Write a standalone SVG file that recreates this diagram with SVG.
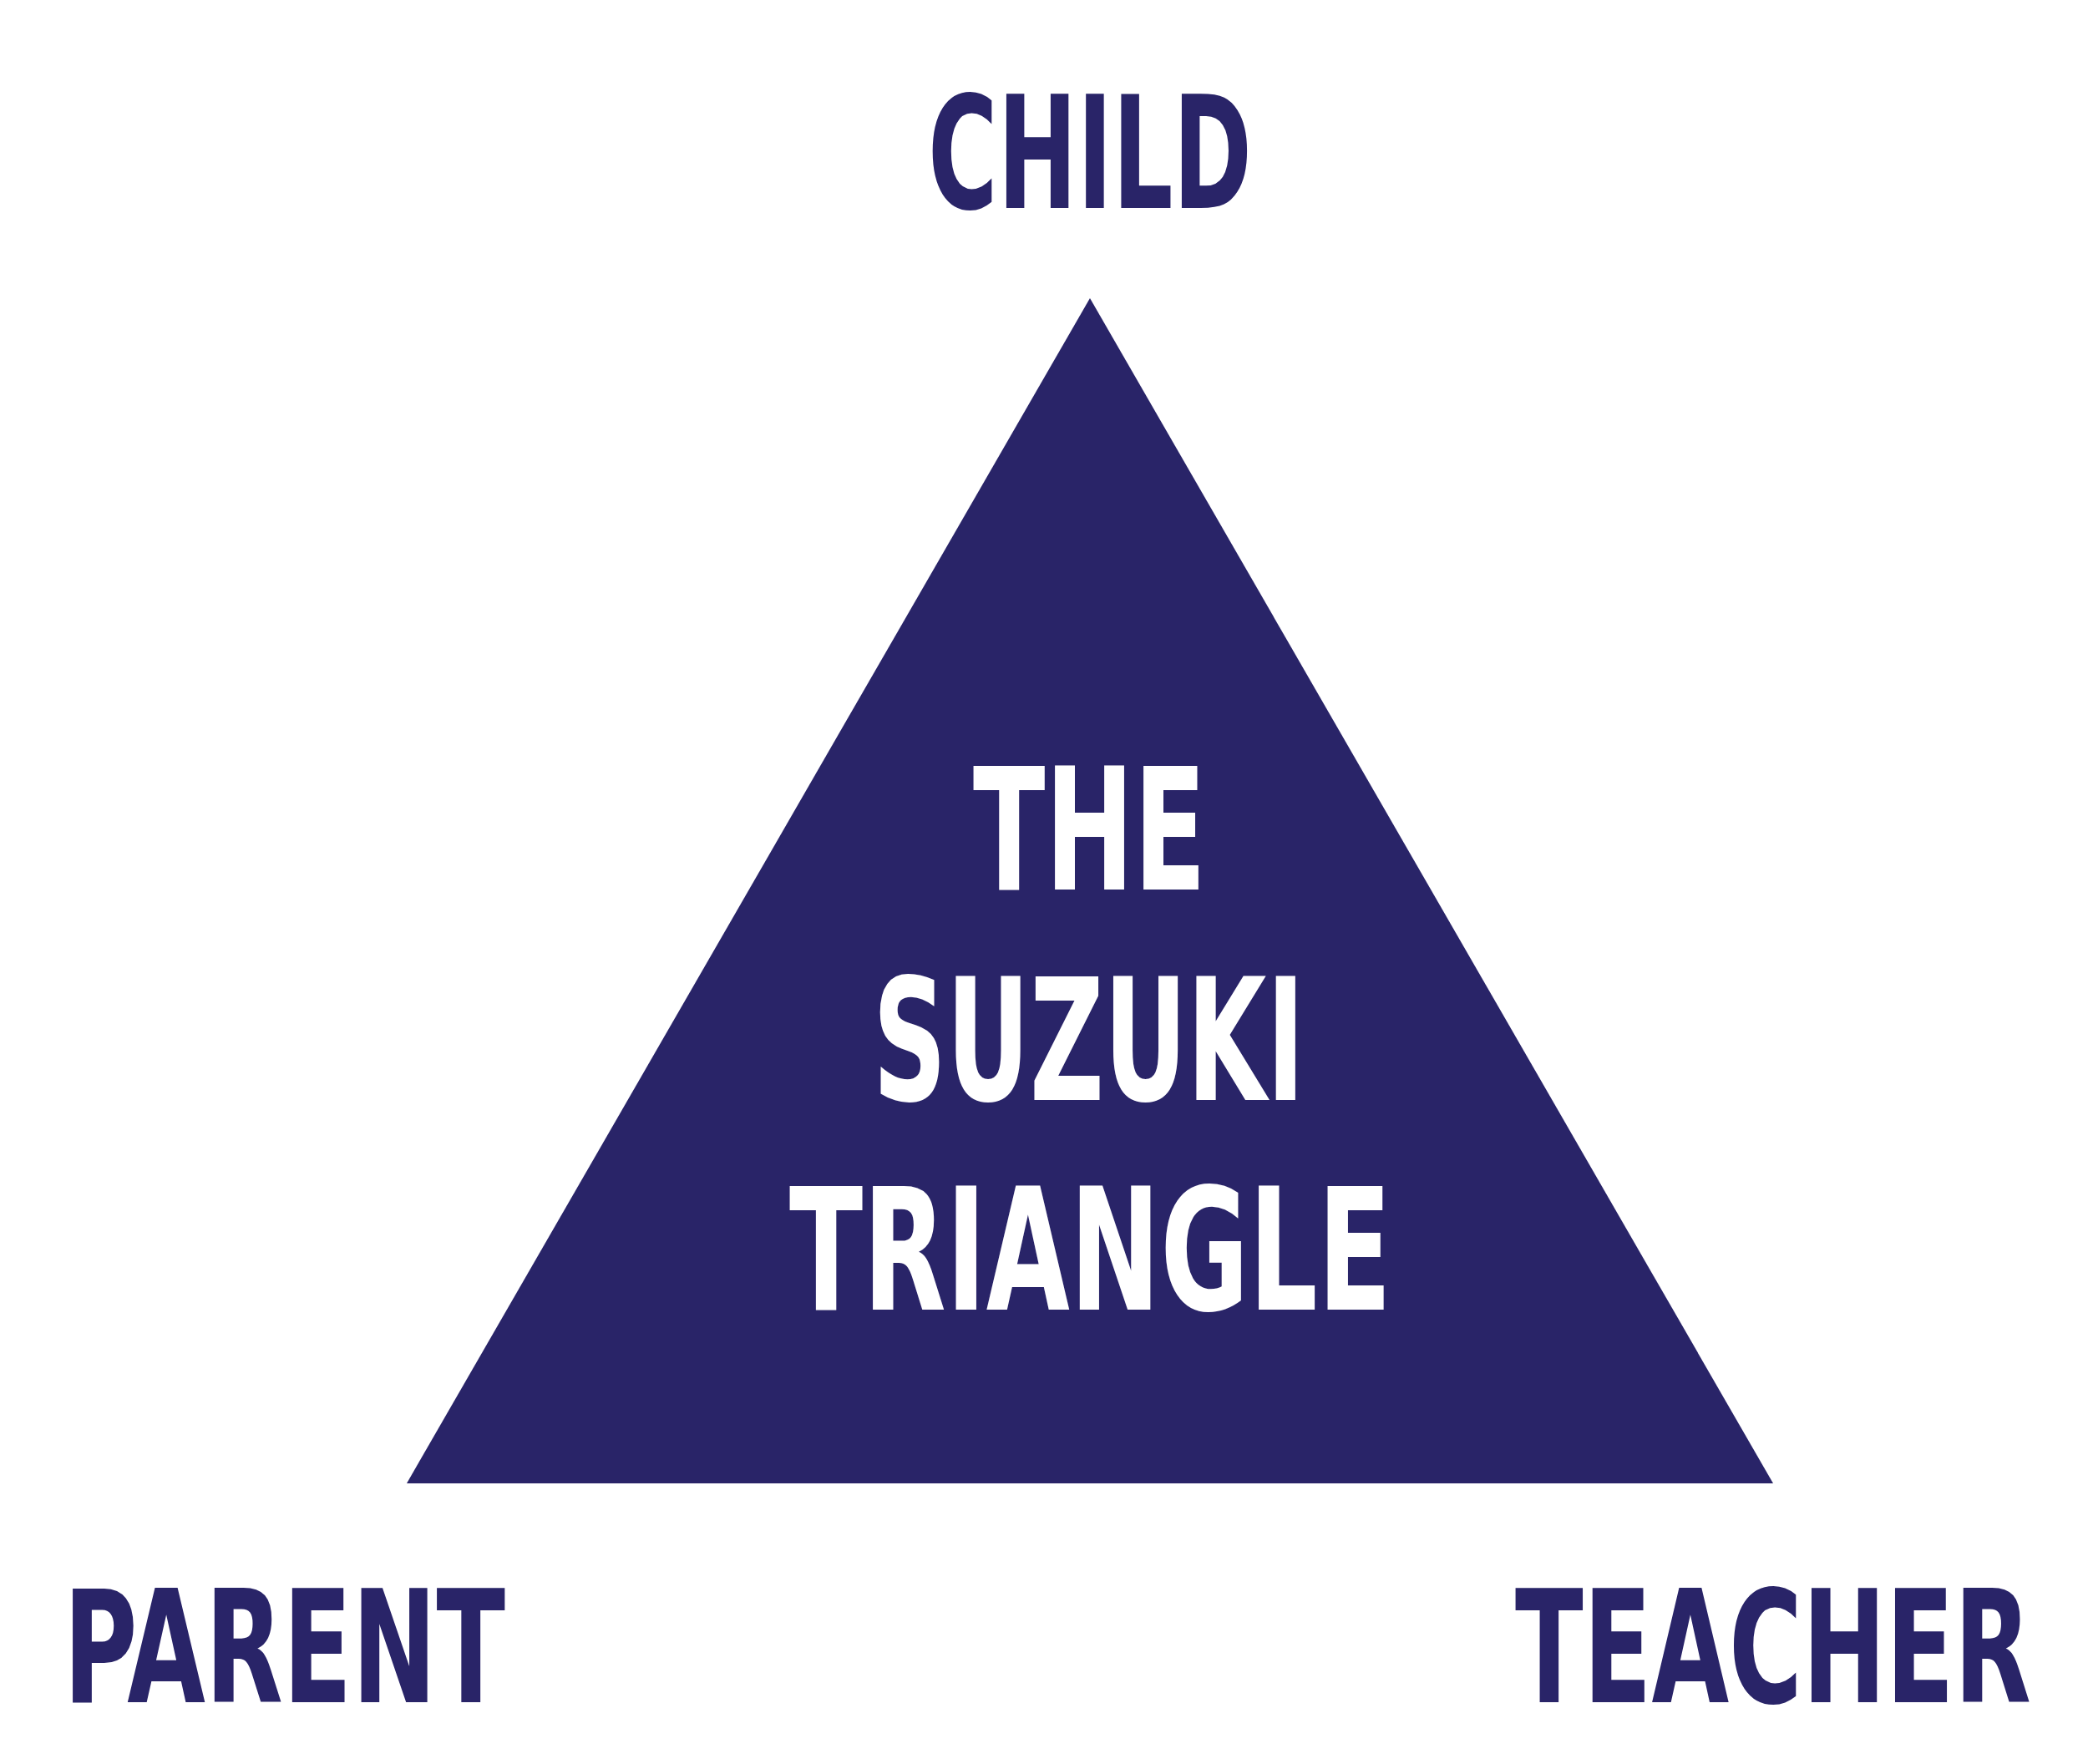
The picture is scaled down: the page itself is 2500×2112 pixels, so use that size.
<svg xmlns="http://www.w3.org/2000/svg" width="2500" height="2112" viewBox="0 0 2500 2112">
  <style>
    .lbl { font-family: "Liberation Sans Narrow", "DejaVu Sans Condensed", "Liberation Sans", sans-serif; font-weight: bold; }
    .outer { fill: #292468; font-size: 188px; }
    .inner { fill: #ffffff; font-size: 204px; }
  </style>
  <rect x="0" y="0" width="2500" height="2112" fill="#ffffff"/>
  <g id="triangle">
    <polygon points="1305,357 2123,1776 487,1776" fill="#292468"/>
    <g id="title">
      <text class="lbl inner" x="1165" y="1065" textLength="279" lengthAdjust="spacingAndGlyphs">THE</text>
      <text class="lbl inner" x="1045" y="1317" textLength="517" lengthAdjust="spacingAndGlyphs">SUZUKI</text>
      <text class="lbl inner" x="945" y="1568" textLength="721" lengthAdjust="spacingAndGlyphs">TRIANGLE</text>
    </g>
  </g>
  <g id="child">
    <text class="lbl outer" x="1111" y="249" textLength="388" lengthAdjust="spacingAndGlyphs">CHILD</text>
  </g>
  <g id="parent">
    <text class="lbl outer" x="76" y="2038" textLength="529" lengthAdjust="spacingAndGlyphs">PARENT</text>
  </g>
  <g id="teacher">
    <text class="lbl outer" x="1814" y="2038" textLength="618" lengthAdjust="spacingAndGlyphs">TEACHER</text>
  </g>
  <g id="connectors"></g>
</svg>
